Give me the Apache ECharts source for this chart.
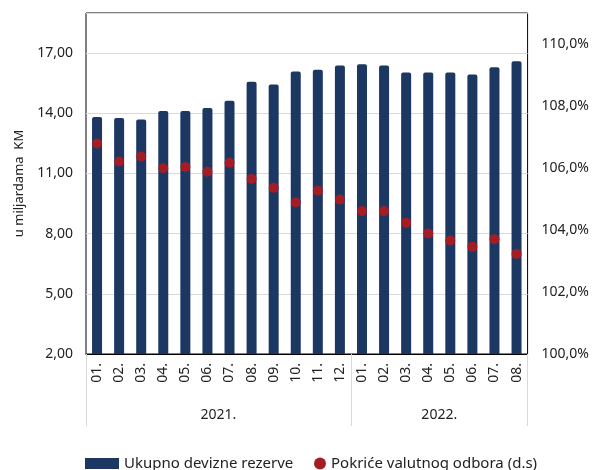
<!DOCTYPE html>
<html>
<head>
<meta charset="utf-8">
<script src="https://cdn.jsdelivr.net/npm/echarts@6/dist/echarts.min.js"></script>
<style>
  html, body { margin: 0; padding: 0; background: #fff; }
  #main { width: 592px; height: 470px; }
</style>
</head>
<body>
<div id="main"></div>
<script>
// mjeseci 2021-2022
var months = ['01.','02.','03.','04.','05.','06.','07.','08.','09.','10.','11.','12.',
              '01.','02.','03.','04.','05.','06.','07.','08.'];
var years = ['2021.', '2022.'];
// ukupno devizne rezerve, mlrd KM
var reserves = [13.82, 13.76, 13.69, 14.12, 14.12, 14.27, 14.62, 15.57, 15.44, 16.08, 16.17, 16.38,
                16.45, 16.38, 16.03, 16.03, 16.03, 15.94, 16.30, 16.60];
// pokrice valutnog odbora, %
var coverage = [106.79, 106.21, 106.37, 105.99, 106.03, 105.88, 106.17, 105.65, 105.36, 104.89, 105.27, 104.98,
                104.61, 104.61, 104.23, 103.89, 103.66, 103.46, 103.70, 103.23];

var font = 'Noto Sans';
var chart = echarts.init(document.getElementById('main'));

chart.setOption({
  backgroundColor: '#fff',
  textStyle: { fontFamily: font },
  grid: { left: 86, right: 62, top: 13, bottom: 116, show: true, borderColor: '#000', borderWidth: 1 },
  legend: [{
    left: 80, top: 451,
    itemWidth: 34, itemHeight: 11,
    textStyle: { fontSize: 15, color: '#222', fontFamily: font },
    data: [{ name: 'Ukupno devizne rezerve', icon: 'rect' }]
  }, {
    left: 309, top: 451,
    itemWidth: 12, itemHeight: 12,
    textStyle: { fontSize: 15, color: '#222', fontFamily: font },
    data: [{ name: 'Pokriće valutnog odbora (d.s)', icon: 'circle' }]
  }],
  xAxis: [{
    type: 'category',
    data: months,
    axisLine: { show: true, lineStyle: { color: '#000', width: 1 } },
    axisTick: {
      show: true,
      length: 72,
      interval: function (idx) { return idx === 0 || idx === 12; },
      lineStyle: { color: '#d9d9d9' }
    },
    axisLabel: { interval: 0, rotate: 90, margin: 9, fontSize: 14, color: '#222' }
  }, {
    type: 'value',
    position: 'bottom',
    min: 0, max: 20,
    offset: 46,
    axisLine: { show: false },
    axisTick: { show: false },
    splitLine: { show: false },
    axisLabel: {
      customValues: [6, 16],
      fontSize: 14, color: '#222', margin: 8,
      formatter: function (v) { return v === 6 ? years[0] : years[1]; }
    }
  }],
  yAxis: [{
    type: 'value',
    min: 2, max: 19, interval: 3,
    name: 'u miljardama  KM',
    nameLocation: 'middle',
    nameGap: 60,
    nameTextStyle: { fontSize: 13, color: '#222' },
    axisLine: { show: false },
    axisTick: { show: false },
    splitLine: { lineStyle: { color: '#d9d9d9' } },
    axisLabel: {
      showMaxLabel: false, margin: 13, fontSize: 14, color: '#222',
      formatter: function (v) { return v.toFixed(2).replace('.', ','); }
    }
  }, {
    type: 'value',
    position: 'right',
    min: 100, max: 111, interval: 2,
    axisLine: { show: false },
    axisTick: { show: false },
    splitLine: { show: false },
    axisLabel: {
      showMaxLabel: false, margin: 14, fontSize: 14, color: '#222',
      formatter: function (v) { return v.toFixed(1).replace('.', ',') + '%'; }
    }
  }],
  series: [{
    name: 'Ukupno devizne rezerve',
    type: 'bar',
    data: reserves,
    barWidth: 10,
    itemStyle: { color: '#1d3763', borderRadius: [2, 2, 0, 0] }
  }, {
    name: 'Pokriće valutnog odbora (d.s)',
    type: 'scatter',
    yAxisIndex: 1,
    data: coverage,
    symbolSize: 10,
    itemStyle: { color: '#a51d24', opacity: 1 }
  }]
});
</script>
</body>
</html>
